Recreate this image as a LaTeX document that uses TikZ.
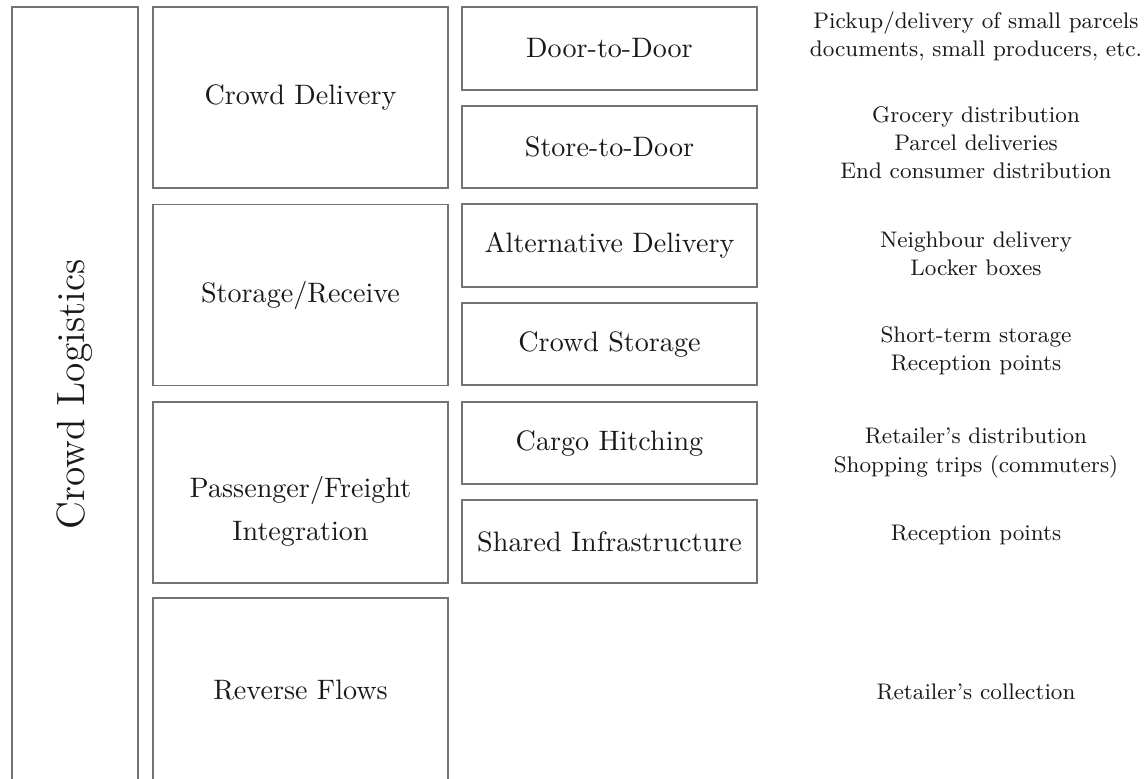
\documentclass[tikz,border=0pt]{standalone}
\usepackage{tikz}

\tikzset{
  box/.style={draw=black!55, line width=0.6pt, text=black!90, inner sep=0pt, align=center,
    font=\fontsize{10.6}{12.7}\selectfont},
  catbox/.style={box, minimum width=111.2pt, minimum height=68.2pt},
  subbox/.style={box, minimum width=111.2pt, minimum height=31.1pt},
  desc/.style={text=black!90, font=\fontsize{8.5}{10.6}\selectfont, align=center}
}

\begin{document}
\begin{tikzpicture}[x=0.377pt, y=-0.377pt]
  \useasboundingbox (0,0) rectangle (1146,779);
  \clip (0,0) rectangle (1146,779);

  % main frame
  \node[box, minimum width=47.5pt, minimum height=292.2pt] (cl) at (75,394.5) {};
  \node[text=black!90, font=\fontsize{14.85}{18}\selectfont, rotate=90] (cltext) at (cl.center) {Crowd Logistics};

  % categories
  \node[catbox] (cd) at (300.5,97.5) {Crowd Delivery};
  \node[catbox, label={[name=pftext, box, draw=none, yshift=-7.2pt]center:Passenger/Freight\\[3.4pt]Integration}] (pf) at (300.5,492.5) {};
  \node[catbox] (sr) at (300.5,295) {Storage/Receive};
  \node[catbox, minimum height=69.4pt] (rf) at (300.5,690) {Reverse Flows};

  % sub-categories
  \node[subbox] (dd) at (609.5,48.5) {Door-to-Door};
  \node[subbox] (sd) at (609.5,147) {Store-to-Door};
  \node[subbox] (ad) at (609.5,245.5) {Alternative Delivery};
  \node[subbox] (cs) at (609.5,344) {Crowd Storage};
  \node[subbox] (ch) at (609.5,443) {Cargo Hitching};
  \node[subbox] (si) at (609.5,541.5) {Shared Infrastructure};

  % examples
  \node[desc] (dddesc) at (976,36) {Pickup/delivery of small parcels\\documents, small producers, etc.};
  \node[desc] (sddesc) at (976,143) {Grocery distribution\\Parcel deliveries\\End consumer distribution};
  \node[desc] (addesc) at (976,254) {Neighbour delivery\\Locker boxes};
  \node[desc] (csdesc) at (976,351) {Short-term storage\\Reception points};
  \node[desc] (chdesc) at (976,453) {Retailer's distribution\\Shopping trips (commuters)};
  \node[desc] (sidesc) at (976,535) {Reception points};
  \node[desc] (rfdesc) at (976,692) {Retailer's collection};
\end{tikzpicture}
\end{document}
